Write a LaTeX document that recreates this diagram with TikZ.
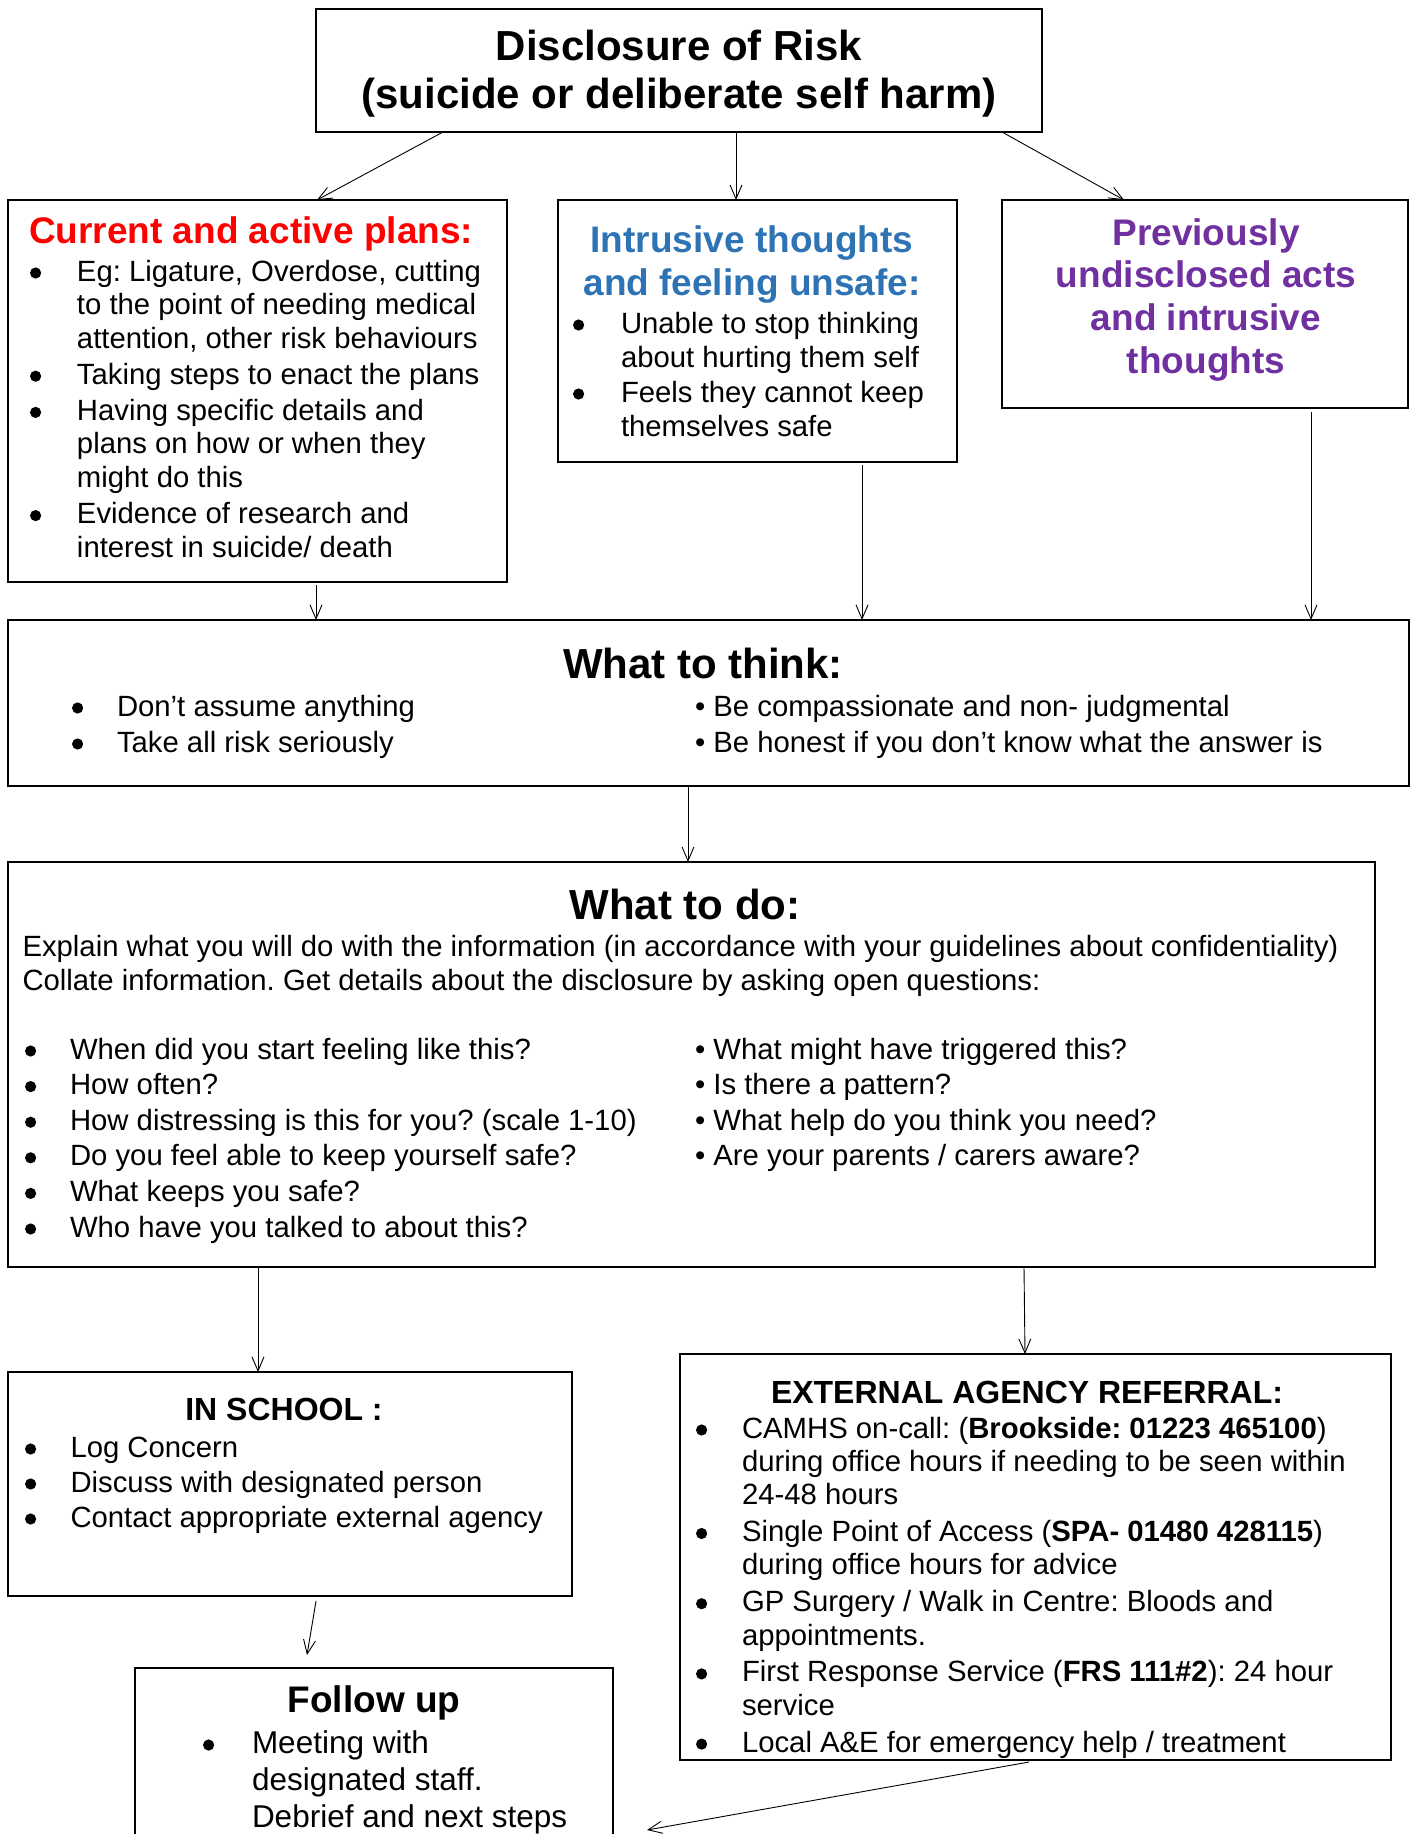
\documentclass[tikz,border=0pt]{standalone}
\usepackage{fontspec}
\setmainfont{Liberation Sans}
\usetikzlibrary{arrows.meta}
\definecolor{hred}{RGB}{255,0,0}
\definecolor{hblue}{RGB}{46,116,181}
\definecolor{hpurple}{RGB}{112,48,160}
\frenchspacing
\newcommand{\bfbig}{\fontsize{42}{48}\selectfont\bfseries}
\newcommand{\bfmid}{\fontsize{37}{43}\selectfont\bfseries}
\newcommand{\bfsml}{\fontsize{32}{38}\selectfont\bfseries}
\newcommand{\bigbul}{\raisebox{2.4pt}{\begin{pgfpicture}\pgfpathcircle{\pgfpoint{0pt}{0pt}}{5.6pt}\pgfusepath{fill}\end{pgfpicture}}}
\newcommand{\blist}[2]{\begin{tabular}[t]{@{}p{#1}@{}l@{}}#2\end{tabular}}
\newcommand{\clines}[1]{\begin{tabular}[t]{@{}c@{}}#1\end{tabular}}
\newcommand{\llines}[1]{\begin{tabular}[t]{@{}l@{}}#1\end{tabular}}
\begin{document}
\begin{tikzpicture}[x=1pt,y=-1pt,
  box/.style={draw, line width=2pt, anchor=north west, inner sep=0pt, outer sep=0pt},
  arr/.style={line width=0.9pt, -{Straight Barb[length=14pt,width=12pt,line width=0.9pt]}},
  txt/.style={inner sep=0pt, outer sep=0pt, anchor=base west},
  ttl/.style={inner sep=0pt, outer sep=0pt, anchor=base},
  body/.style={font=\fontsize{29.3}{#1}\selectfont},
  body/.default=33.5]
\fill[white] (0,0) rectangle (1415,1834);
\useasboundingbox (0,0) rectangle (1415,1834);
\clip (0,0) rectangle (1415,1834);

% boxes
\node[box, minimum width=726pt, minimum height=123pt] (top) at (316,9) {};
\node[box, minimum width=499pt, minimum height=382pt] (cur) at (8,200) {};
\node[box, minimum width=399pt, minimum height=262pt] (intr) at (558,200) {};
\node[box, minimum width=406pt, minimum height=208pt] (prev) at (1002,200) {};
\node[box, minimum width=1401pt, minimum height=166pt] (think) at (8,620) {};
\node[box, minimum width=1367pt, minimum height=405pt] (do) at (8,862) {};
\node[box, minimum width=564pt, minimum height=224pt] (school) at (8,1372) {};
\node[box, minimum width=711pt, minimum height=406pt] (ext) at (679.5,1354) {};
\node[box, minimum width=478.5pt, minimum height=320pt] (fol) at (134.5,1668) {};

% top title
\node[ttl, font=\bfbig] (toptxt) at (679,60) {\clines{Disclosure of Risk\\(suicide or deliberate self harm)}};

% current and active plans
\node[txt, font=\bfmid, text=hred] (curh) at (29,243) {Current and active plans:};
\node[txt, body] (curl) at (30,281) {\blist{47pt}{%
\bigbul & Eg: Ligature, Overdose, cutting\\
 & to the point of needing medical\\
 & attention, other risk behaviours\\[2.7pt]
\bigbul & Taking steps to enact the plans\\[2.7pt]
\bigbul & Having specific details and\\
 & plans on how or when they\\
 & might do this\\[2.7pt]
\bigbul & Evidence of research and\\
 & interest in suicide/ death}};

% intrusive thoughts
\node[ttl, font=\bfmid, text=hblue] (intrh) at (752,252) {\clines{Intrusive thoughts\\and feeling unsafe:}};
\node[txt, body=34] (intrl) at (573,333) {\blist{48pt}{%
\bigbul & Unable to stop thinking\\
 & about hurting them self\\[1pt]
\bigbul & Feels they cannot keep\\
 & themselves safe}};

% previously undisclosed
\node[ttl, font=\fontsize{37}{42.7}\selectfont\bfseries, text=hpurple] (prevh) at (1206,245) {\clines{Previously\\undisclosed acts\\and intrusive\\thoughts}};

% what to think
\node[ttl, font=\bfbig] (thinkh) at (703,678) {What to think:};
\node[txt, body=36] (thinkl) at (72,716) {\blist{45pt}{%
\bigbul & Don’t assume anything\\
\bigbul & Take all risk seriously}};
\node[txt, body=36] (thinkr) at (695,716) {\llines{%
\textbullet{} Be compassionate and non- judgmental\\
\textbullet{} Be honest if you don’t know what the answer is}};

% what to do
\node[ttl, font=\bfbig] (doh) at (685,919) {What to do:};
\node[txt, body=34] (dop) at (22.5,956) {\llines{%
Explain what you will do with the information (in accordance with your guidelines about confidentiality)\\
Collate information. Get details about the disclosure by asking open questions:}};
\node[txt, body=35.6] (dol) at (25,1059) {\blist{45pt}{%
\bigbul & When did you start feeling like this?\\
\bigbul & How often?\\
\bigbul & How distressing is this for you? (scale 1-10)\\
\bigbul & Do you feel able to keep yourself safe?\\
\bigbul & What keeps you safe?\\
\bigbul & Who have you talked to about this?}};
\node[txt, body=35.6] (dor) at (695,1059) {\llines{%
\textbullet{} What might have triggered this?\\
\textbullet{} Is there a pattern?\\
\textbullet{} What help do you think you need?\\
\textbullet{} Are your parents / carers aware?}};

% in school
\node[ttl, font=\bfsml] (schoolh) at (284,1420) {IN SCHOOL :};
\node[txt, body=35] (schooll) at (25,1457) {\blist{45.5pt}{%
\bigbul & Log Concern\\
\bigbul & Discuss with designated person\\
\bigbul & Contact appropriate external agency}};

% external agency referral
\node[ttl, font=\bfsml] (exth) at (1027,1403) {EXTERNAL AGENCY REFERRAL:};
\node[txt, body=33.3] (extl) at (696,1438) {\blist{46pt}{%
\bigbul & CAMHS on-call: (\textbf{Brookside: 01223 465100})\\
 & during office hours if needing to be seen within\\
 & 24-48 hours\\[3.6pt]
\bigbul & Single Point of Access (\textbf{SPA- 01480 428115})\\
 & during office hours for advice\\[3.6pt]
\bigbul & GP Surgery / Walk in Centre: Bloods and\\
 & appointments.\\[3.6pt]
\bigbul & First Response Service (\textbf{FRS 111\#2}): 24 hour\\
 & service\\[3.6pt]
\bigbul & Local A\&E for emergency help / treatment}};

% follow up
\node[ttl, font=\bfmid] (folh) at (374,1712) {Follow up};
\node[txt, font=\fontsize{31.5}{37}\selectfont] (foll) at (203,1753) {\blist{49pt}{%
\bigbul & Meeting with\\
 & designated staff.\\
 & Debrief and next steps}};

% connectors
\draw[arr] ([xshift=127pt]top.south west) -- ([xshift=309pt]cur.north west);
\draw[arr] ([xshift=420pt]top.south west) -- ([xshift=178pt]intr.north west);
\draw[arr] ([xshift=686pt]top.south west) -- ([xshift=122pt]prev.north west);
\draw[arr] ([xshift=308pt,yshift=-3pt]cur.south west) -- ([xshift=308pt]think.north west);
\draw[arr] ([xshift=304pt,yshift=-3pt]intr.south west) -- ([xshift=854pt]think.north west);
\draw[arr] ([xshift=309pt,yshift=-4pt]prev.south west) -- ([xshift=1303pt]think.north west);
\draw[arr] ([xshift=680pt]think.south west) -- ([xshift=680pt]do.north west);
\draw[arr] ([xshift=250pt]do.south west) -- ([xshift=250pt]school.north west);
\draw[arr] ([xshift=1016pt]do.south west) -- ([xshift=345.5pt]ext.north west);
\draw[arr] ([xshift=308pt,yshift=-5pt]school.south west) -- ([xshift=172.5pt,yshift=13pt]fol.north west);
\draw[arr] ([xshift=349.5pt,yshift=-2pt]ext.south west) -- ([xshift=34pt,yshift=-162pt]fol.north east);
\end{tikzpicture}
\end{document}
